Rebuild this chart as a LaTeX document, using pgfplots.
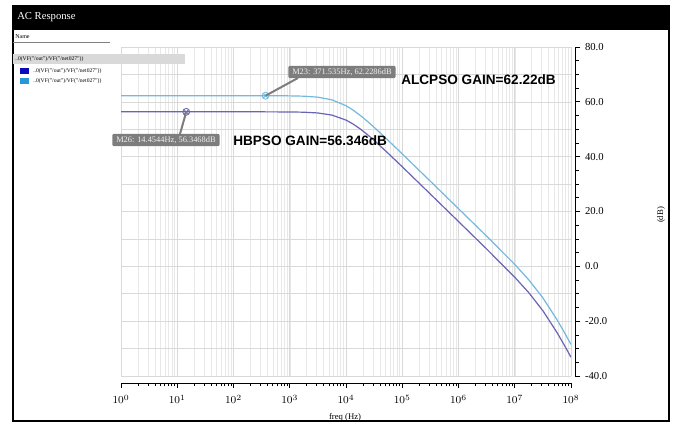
\documentclass[border=0pt]{standalone}
\usepackage{pgfplots}
\pgfplotsset{compat=1.18}
\usetikzlibrary{plotmarks}
\usepackage{fontspec}
\setmainfont{Liberation Serif}
\newfontfamily\arial{Liberation Sans}

\definecolor{alcp}{RGB}{115,185,220}
\definecolor{hbp}{RGB}{105,100,180}
\definecolor{callout}{RGB}{125,125,125}
\definecolor{legdark}{RGB}{10,10,190}
\definecolor{leglight}{RGB}{40,150,215}

% Magnitude response of the two optimised amplifiers (freq in Hz, gain in dB)
\pgfplotstableread{
f         g
1         62.230
10        62.230
100       62.229
371.535   62.2286
1000      62.173
1778.3    62.053
3162.3    61.692
5623.4    60.717
10000     58.579
13335     56.987
17782.8   55.096
23714     52.980
31622.8   50.713
56234.1   45.927
100000    40.998
316227.8  31.027
1000000   21.027
3162277.7 10.996
10000000  0.698
17782794  -4.943
31622777  -11.509
56234133  -19.425
74989421  -23.848
100000000 -28.485
}\alcpso

\pgfplotstableread{
f         g
1         56.350
10        56.350
14.4544   56.3468
100       56.350
316.2     56.346
1000      56.307
1778.3    56.215
3162.3    55.936
5623.4    55.157
10000     53.340
13335     51.913
17782.8   50.157
23714     48.139
31622.8   45.936
56234.1   41.215
100000    36.307
316227.8  26.346
1000000   16.347
3162277.7 6.316
10000000  -3.982
17782794  -9.623
31622777  -16.189
56234133  -24.105
74989421  -28.528
100000000 -33.165
}\hbpso

\begin{document}
\begin{tikzpicture}
% window frame
\begin{scope}[x=0.75pt,y=0.75pt]
  \useasboundingbox (0,0) rectangle (675,423);
  \fill[white] (0,0) rectangle (675,423);
  \fill[black] (13,393) rectangle (670,418);
  \draw[black, line width=1.5pt] (13,418) -- (13,2) -- (669,2) -- (669,418);
  \node[anchor=west, text=white, font=\fontsize{8}{9}\selectfont, inner sep=0pt] at (17,406) {AC Response};
  \node[anchor=west, font=\fontsize{4.5}{5}\selectfont, inner sep=0pt] at (15,386) {Name};
  \draw[gray, line width=0.4pt] (13,381) -- (110,381);
\end{scope}

% grid and curves
\begin{axis}[
  at={(90.75pt,35.25pt)}, anchor=south west,
  width=337.5pt, height=246.75pt, scale only axis,
  xmode=log, xmin=1, xmax=1e8, ymin=-40, ymax=80,
  ytick={-40,-30,...,80},
  grid=both,
  major grid style={gray!30, line width=0.45pt},
  minor grid style={gray!18, line width=0.35pt},
  axis line style={draw=none}, tick style={draw=none},
  xticklabels={}, yticklabels={},
]
\addplot[alcp, line width=0.9pt] table[x=f, y=g] {\alcpso};
\addplot[hbp, line width=0.9pt] table[x=f, y=g] {\hbpso};
\addplot[alcp, only marks, mark=otimes, mark size=2.6pt, mark options={line width=0.6pt}] coordinates {(371.535,62.2286)};
\addplot[hbp, only marks, mark=otimes, mark size=2.6pt, mark options={line width=0.6pt}] coordinates {(14.4544,56.3468)};
\coordinate (m23) at (axis cs:371.535,62.2286);
\coordinate (m26) at (axis cs:14.4544,56.3468);
\end{axis}

% frequency axis, set a little below the grid
\begin{axis}[
  at={(90.75pt,30pt)}, anchor=south west,
  width=337.5pt, height=20pt, scale only axis,
  xmode=log, xmin=1, xmax=1e8, ymin=0, ymax=1,
  axis x line*=bottom, axis y line=none,
  every outer x axis line/.append style={-},
  x axis line style={-, line width=0.5pt},
  xtick={1,10,100,1000,10000,100000,1000000,10000000,100000000},
  xtick align=outside,
  major tick length=3.5pt, minor tick length=2.5pt,
  tick style={black, line width=0.5pt},
  xticklabel style={font=\footnotesize, yshift=-2pt},
]
\addplot[draw=none] coordinates {(1,0) (1e8,0)};
\end{axis}

% gain axis on the right
\begin{axis}[
  at={(93.75pt,35.25pt)}, anchor=south west,
  width=337.5pt, height=246.75pt, scale only axis,
  xmin=0, xmax=1, ymin=-40, ymax=80,
  axis y line*=right, axis x line=none,
  every outer y axis line/.append style={-},
  y axis line style={-, line width=0.5pt},
  ytick={-40,-20,...,80}, minor y tick num=3,
  ytick align=outside,
  major tick length=4pt, minor tick length=3pt,
  tick style={black, line width=0.5pt},
  /pgf/number format/assume math mode=true,
  yticklabel={\pgfmathprintnumber[fixed,fixed zerofill,precision=1]{\tick}},
  yticklabel style={font=\footnotesize},
]
\addplot[draw=none] coordinates {(0,0) (1,0)};
\end{axis}

\begin{scope}[x=0.75pt,y=0.75pt]
  % trace list
  \fill[gray!30] (13,359) rectangle (185,369);
  \node[anchor=west, font=\fontsize{4.2}{5}\selectfont, inner sep=0pt] at (15,364) {..0(VF("/out")/VF("/net027"))};
  \fill[legdark] (20,349) rectangle (29,355);
  \node[anchor=west, font=\fontsize{4.2}{5}\selectfont, inner sep=0pt] at (33,352) {..0(VF("/out")/VF("/net027"))};
  \fill[leglight] (20,339) rectangle (29,345);
  \node[anchor=west, font=\fontsize{4.2}{5}\selectfont, inner sep=0pt] at (33,342) {..0(VF("/out")/VF("/net027"))};

  % marker callouts
  \draw[callout, line width=1.5pt] (m23) -- (298,345);
  \node[fill=callout, rounded corners=1.5pt, text=white!88!gray, font=\fontsize{6.3}{7}\selectfont,
        inner xsep=3pt, inner ysep=2pt, anchor=west] at (288,351) {M23: 371.535Hz, 62.2286dB};
  \draw[callout, line width=1.5pt] (m26) -- (180,289);
  \node[fill=callout, rounded corners=1.5pt, text=white!88!gray, font=\fontsize{6.3}{7}\selectfont,
        inner xsep=3pt, inner ysep=2pt, anchor=west] at (112,283) {M26: 14.4544Hz, 56.3468dB};

  % gain notes
  \node[anchor=west, font=\arial\bfseries\fontsize{10.2}{12}\selectfont, inner sep=0pt] at (401,343) {ALCPSO GAIN=62.22dB};
  \node[anchor=west, font=\arial\bfseries\fontsize{10.2}{12}\selectfont, inner sep=0pt] at (233,282) {HBPSO GAIN=56.346dB};

  % axis titles
  \node[font=\fontsize{6.5}{7}\selectfont, inner sep=0pt] at (345,6) {freq (Hz)};
  \node[rotate=90, font=\fontsize{6.5}{7}\selectfont, inner sep=0pt] at (661,208) {(dB)};
\end{scope}
\end{tikzpicture}
\end{document}
